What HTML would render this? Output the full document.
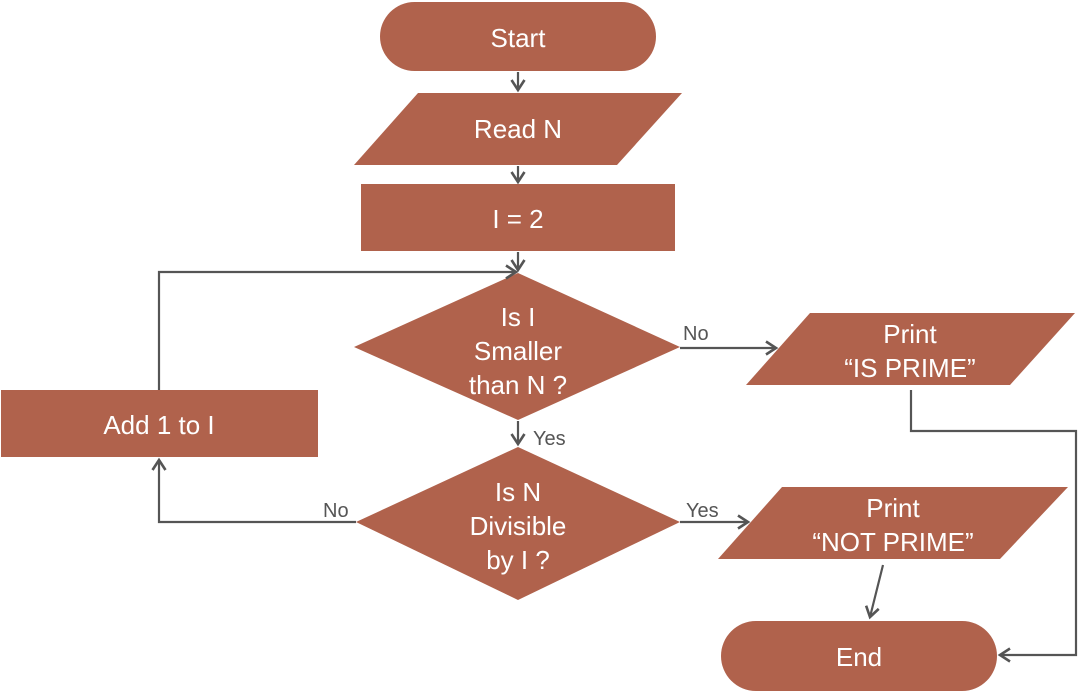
<!DOCTYPE html>
<html><head><meta charset="utf-8"><style>
html,body{margin:0;padding:0;background:#fff;}
svg{display:block;}
text{font-family:"Liberation Sans",sans-serif;}
.w{fill:#fff;font-size:26px;text-anchor:middle;}
.l{fill:#555;font-size:20px;}
.s{fill:#b0624c;}
.c{stroke:#555;stroke-width:2.2;fill:none;}
</style></head><body>
<svg width="1080" height="694" viewBox="0 0 1080 694">
<defs><marker id="a" markerWidth="16" markerHeight="16" refX="13" refY="8" orient="auto" markerUnits="userSpaceOnUse"><path d="M3,1.5 L13,8 L3,14.5" fill="none" stroke="#555" stroke-width="2.6"/></marker></defs>
<rect class="s" x="380" y="2" width="276" height="69" rx="34.5"/>
<polygon class="s" points="418,93 682,93 617,165 354,165"/>
<rect class="s" x="361" y="184" width="314" height="67"/>
<polygon class="s" points="518,273 680,347 518,420 354,347"/>
<polygon class="s" points="518,447 680,522 518,600 356,522"/>
<rect class="s" x="1" y="390" width="317" height="67"/>
<polygon class="s" points="810,313 1075,313 1010,385 746,385"/>
<polygon class="s" points="782,487 1068,487 1000,559 718,559"/>
<rect class="s" x="721" y="621" width="276" height="70" rx="35"/>
<path class="c" d="M518,72 V90" marker-end="url(#a)"/>
<path class="c" d="M518,166 V182" marker-end="url(#a)"/>
<path class="c" d="M518,252 V270" marker-end="url(#a)"/>
<path class="c" d="M159,390 V272 H516" marker-end="url(#a)"/>
<path class="c" d="M356,522 H159 V460" marker-end="url(#a)"/>
<path class="c" d="M680,348 H776" marker-end="url(#a)"/>
<path class="c" d="M518,421 V444" marker-end="url(#a)"/>
<path class="c" d="M680,522 H748" marker-end="url(#a)"/>
<path class="c" d="M911,390 V431 H1076 V655 H1000" marker-end="url(#a)"/>
<path class="c" d="M883,565 L870,617" marker-end="url(#a)"/>
<text class="w" x="518" y="47">Start</text>
<text class="w" x="518" y="138">Read N</text>
<text class="w" x="518" y="228">I = 2</text>
<text class="w" x="518" y="326">Is I</text>
<text class="w" x="518" y="360">Smaller</text>
<text class="w" x="518" y="394">than N ?</text>
<text class="w" x="518" y="501">Is N</text>
<text class="w" x="518" y="535">Divisible</text>
<text class="w" x="518" y="569">by I ?</text>
<text class="w" x="159" y="434">Add 1 to I</text>
<text class="w" x="910" y="343">Print</text>
<text class="w" x="910" y="377">“IS PRIME”</text>
<text class="w" x="893" y="517">Print</text>
<text class="w" x="893" y="551">“NOT PRIME”</text>
<text class="w" x="859" y="666">End</text>
<text class="l" x="683" y="340">No</text>
<text class="l" x="533" y="445">Yes</text>
<text class="l" x="686" y="517">Yes</text>
<text class="l" x="323" y="517">No</text>
</svg>
</body></html>
